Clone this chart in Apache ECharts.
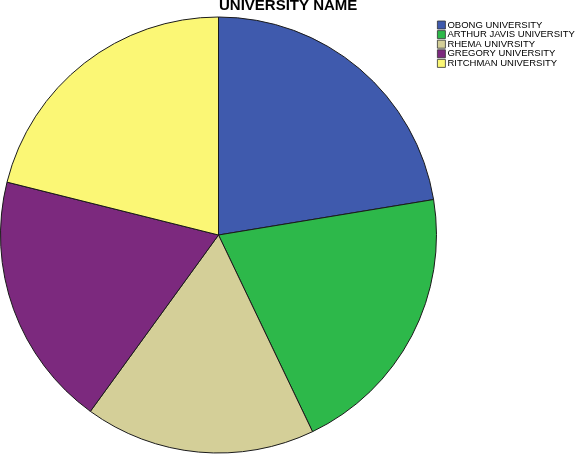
<!DOCTYPE html>
<html>
<head>
<meta charset="utf-8">
<script src="https://cdn.jsdelivr.net/npm/echarts@6/dist/echarts.min.js"></script>
<style>
html, body { margin: 0; padding: 0; background: #fff; }
#main { width: 580px; height: 454px; }
</style>
</head>
<body>
<div id="main"></div>
<script>
// 大学名称 / 占比 (%)
var names = ['OBONG UNIVERSITY', 'ARTHUR JAVIS UNIVERSITY', 'RHEMA UNIVRSITY', 'GREGORY UNIVERSITY', 'RITCHMAN UNIVERSITY'];
var values = [22.4, 20.5, 17.1, 18.9, 21.1];
var colors = ['#3f5aad', '#2db84a', '#d4cf98', '#7c297e', '#fbf775'];

var pieData = [];
for (var i = 0; i < names.length; i++) {
    pieData.push({ name: names[i], value: values[i], itemStyle: { color: colors[i] } });
}

var myChart = echarts.init(document.getElementById('main'));

var option = {
    animation: false,
    title: {
        text: 'UNIVERSITY NAME',
        left: 219,
        top: -2,
        padding: 0,
        textStyle: {
            fontFamily: 'Liberation Sans, Arial, sans-serif',
            fontSize: 15,
            fontWeight: 'bold',
            color: '#000'
        }
    },
    legend: {
        orient: 'vertical',
        left: 437,
        top: 20,
        padding: 0,
        itemWidth: 8,
        itemHeight: 8,
        itemGap: -0.4,
        icon: 'rect',
        itemStyle: { borderColor: '#333', borderWidth: 0.8 },
        textStyle: {
            fontFamily: 'Liberation Sans, Arial, sans-serif',
            fontSize: 9.5,
            lineHeight: 8,
            color: '#000',
            padding: [0, 0, 0, -3]
        },
        data: names
    },
    series: [
        {
            type: 'pie',
            center: [218.5, 235],
            radius: 218,
            startAngle: 90,
            clockwise: true,
            label: { show: false },
            labelLine: { show: false },
            emphasis: { disabled: true },
            itemStyle: { borderColor: '#1a1a1a', borderWidth: 1 },
            data: pieData
        }
    ]
};

myChart.setOption(option);
</script>
</body>
</html>
